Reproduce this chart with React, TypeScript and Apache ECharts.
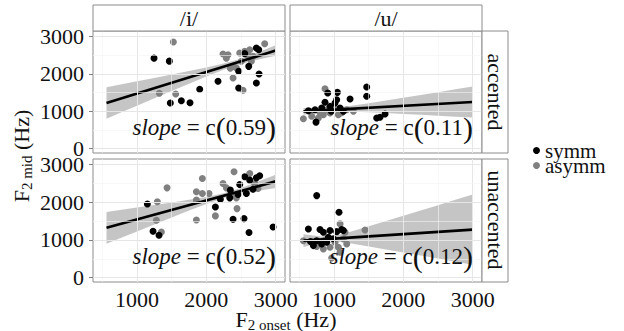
import React, { useEffect, useRef } from 'react';
import * as echarts from 'echarts';

const FONT = 'Liberation Serif';

const colLabels = ['/i/', '/u/'];
const rowLabels = ['accented', 'unaccented'];
const legendNames = ['symm', 'asymm'];
const xTicks = [1000, 2000, 3000];
const yTicks = [0, 1000, 2000, 3000];
const xMinor = [500, 1500, 2500];
const yMinor = [500, 1500, 2500];
const slopes = ['0.59', '0.11', '0.52', '0.12'];

// /i/ accented
const iAccSymm = [[1245, 2420], [1466, 2340], [1480, 1220], [1639, 1280], [1764, 1230], [1904, 1590], [2168, 1800], [2466, 2070], [2466, 1620], [2553, 2540], [2611, 2200], [2721, 2690], [2755, 2645], [2760, 1995], [2721, 1755]];
const iAccAsymm = [[1524, 2850], [1322, 1480], [1558, 1460], [2240, 2530], [2312, 2510], [2288, 2420], [2385, 1890], [2529, 1560], [2385, 2200], [2481, 2555], [2553, 2600], [2625, 2645], [2673, 2470], [2841, 2805], [2433, 2155], [2505, 2335], [2649, 2335], [2345, 2150], [2600, 2500]];
// /u/ accented
const uAccSymm = [[1471, 1650], [1471, 1400], [909, 1490], [1048, 1505], [1231, 1330], [870, 1240], [1014, 1220], [942, 1130], [740, 710], [630, 1015], [726, 1040], [822, 1085], [1087, 1085], [1135, 1000], [1615, 820], [1663, 840], [1736, 925], [1038, 1310], [960, 1000]];
const uAccAsymm = [[870, 1600], [558, 800], [678, 865], [774, 820], [846, 910], [942, 955], [1062, 910], [1183, 1040], [990, 1130], [654, 1000], [894, 1040], [1279, 1000], [800, 950], [1110, 960]];
// /i/ unaccented
const iUnaSymm = [[1149, 1950], [1231, 1230], [1317, 1125], [2130, 1875], [2202, 2080], [2337, 2115], [2385, 1550], [2543, 1565], [2615, 1195], [2962, 1345], [2481, 2470], [2553, 2675], [2625, 2585], [2721, 2645], [2769, 2700], [2577, 2230], [2457, 2205], [2346, 2320], [2673, 2345]];
const iUnaAsymm = [[2399, 2805], [2625, 2760], [1942, 2630], [1433, 2380], [1293, 2010], [1279, 1520], [1351, 1210], [1856, 2275], [1856, 2055], [1942, 2230], [2038, 2230], [1856, 1530], [2130, 1637], [2240, 2495], [2288, 2380], [2442, 1830], [2745, 2365], [2697, 2495], [2361, 2185], [2433, 2115]];
// /u/ unaccented
const uUnaSymm = [[750, 2175], [1072, 1735], [630, 1290], [798, 1275], [846, 1205], [942, 1250], [1038, 1220], [1111, 1275], [1135, 1250], [702, 850], [822, 895], [894, 940], [990, 1030], [750, 980], [918, 1070], [660, 960]];
const uUnaAsymm = [[1087, 1425], [1447, 1265], [1159, 1205], [558, 980], [942, 805], [1062, 805], [966, 520], [1087, 675], [1183, 895], [846, 760], [750, 825], [1014, 940], [1135, 1030], [870, 1000]];

const fitX = [560, 3000];
const iAccFit = [1220, 2622];
const uAccFit = [997, 1246];
const iUnaFit = [1320, 2552];
const uUnaFit = [982, 1273];

const ribbonX = [560, 800, 1000, 1250, 1500, 1750, 2000, 2250, 2500, 2750, 3000];
const iAccLo = [801, 991, 1149, 1345, 1541, 1735, 1927, 2108, 2264, 2382, 2483];
const iAccHi = [1641, 1727, 1799, 1889, 1981, 2073, 2169, 2274, 2406, 2574, 2761];
const uAccLo = [904, 964, 991, 990, 972, 951, 927, 904, 880, 856, 831];
const uAccHi = [1090, 1080, 1093, 1146, 1214, 1287, 1361, 1436, 1510, 1586, 1661];
const iUnaLo = [900, 1078, 1226, 1410, 1595, 1777, 1954, 2112, 2223, 2303, 2374];
const iUnaHi = [1740, 1804, 1858, 1926, 1995, 2065, 2140, 2234, 2377, 2549, 2730];
const uUnaLo = [811, 931, 965, 905, 828, 749, 668, 587, 505, 424, 343];
const uUnaHi = [1153, 1091, 1105, 1223, 1360, 1499, 1640, 1779, 1921, 2062, 2203];

const panels = [
  { symm: iAccSymm, asymm: iAccAsymm, fit: iAccFit, lo: iAccLo, hi: iAccHi },
  { symm: uAccSymm, asymm: uAccAsymm, fit: uAccFit, lo: uAccLo, hi: uAccHi },
  { symm: iUnaSymm, asymm: iUnaAsymm, fit: iUnaFit, lo: iUnaLo, hi: iUnaHi },
  { symm: uUnaSymm, asymm: uUnaAsymm, fit: uUnaFit, lo: uUnaLo, hi: uUnaHi },
];

const grids = [
  { left: 93, top: 31, width: 192, height: 122 },
  { left: 290, top: 31, width: 192, height: 122 },
  { left: 93, top: 159, width: 192, height: 123 },
  { left: 290, top: 159, width: 192, height: 123 },
];

const X_MIN = 365, X_MAX = 3134, Y_MIN = -115, Y_MAX = 3145;
const BORDER = '#8c8c8c';
const TXT = '#111';

export default function App() {
  const ref = useRef<HTMLDivElement>(null);
  useEffect(() => {
    document.body.style.margin = '0';
    const chart = echarts.init(ref.current!, undefined, { renderer: 'svg' });
    const major = { color: '#e6e6e6', width: 1, type: 'solid' };
    const minor = { color: '#f3f3f3', width: 0.6, type: 'solid' };
    const series: any[] = [];
    panels.forEach((p, i) => {
      const gridMarks = [
        ...xTicks.map((v) => ({ xAxis: v, lineStyle: major })),
        ...xMinor.map((v) => ({ xAxis: v, lineStyle: minor })),
        ...yTicks.map((v) => ({ yAxis: v, lineStyle: major })),
        ...yMinor.map((v) => ({ yAxis: v, lineStyle: minor })),
      ];
      series.push({
        type: 'line', xAxisIndex: i, yAxisIndex: i, z: 0,
        data: fitX.map((x, k) => [x, p.fit[k]]),
        symbol: 'none', silent: true, lineStyle: { width: 0, opacity: 0 },
        markLine: { silent: true, symbol: 'none', label: { show: false }, animation: false, data: gridMarks },
      });
      series.push({
        type: 'custom', xAxisIndex: i, yAxisIndex: i, z: 1, silent: true,
        data: [[ribbonX[0], p.lo[0]]],
        renderItem: (_params: any, api: any) => {
          const upper = ribbonX.map((x, k) => api.coord([x, p.hi[k]]));
          const lower = ribbonX.map((x, k) => api.coord([x, p.lo[k]])).reverse();
          return {
            type: 'polygon',
            shape: { points: [...upper, ...lower] },
            style: { fill: 'rgba(140,140,140,0.5)' },
          };
        },
      });
      series.push({
        type: 'scatter', name: 'asymm', xAxisIndex: i, yAxisIndex: i, z: 3,
        data: p.asymm, symbolSize: 7, itemStyle: { color: '#808080', opacity: 1 },
      });
      series.push({
        type: 'scatter', name: 'symm', xAxisIndex: i, yAxisIndex: i, z: 3,
        data: p.symm, symbolSize: 7, itemStyle: { color: '#000000', opacity: 1 },
      });
      series.push({
        type: 'line', xAxisIndex: i, yAxisIndex: i, z: 4,
        data: fitX.map((x, k) => [x, p.fit[k]]),
        symbol: 'none', lineStyle: { color: '#000', width: 2.6 },
      });
    });

    const labelStyle = { fontFamily: FONT, fontSize: 22, color: TXT };
    const slopeRich = {
      it: { fontFamily: FONT, fontSize: 23, fontStyle: 'italic', fill: TXT },
      n: { fontFamily: FONT, fontSize: 23, fill: TXT },
      p: { fontFamily: FONT, fontSize: 30, fill: TXT },
    };
    const slopePos = [[276, 127], [473, 127], [276, 256], [473, 256]];

    const graphic: any[] = [];
    [[93, 189], [290, 386]].forEach(([x0, cx], j) => {
      graphic.push({ type: 'rect', z: 50, shape: { x: x0, y: 5, width: 192, height: 26 }, style: { fill: '#fff', stroke: BORDER, lineWidth: 1 } });
      graphic.push({ type: 'text', z: 51, x: cx, y: 18, style: { text: colLabels[j], fontFamily: FONT, fontSize: 22, fill: TXT, align: 'center', verticalAlign: 'middle' } });
    });
    [[31, 122, 92], [159, 123, 220]].forEach(([y0, h, cy], j) => {
      graphic.push({ type: 'rect', z: 50, shape: { x: 482, y: y0, width: 26, height: h }, style: { fill: '#fff', stroke: BORDER, lineWidth: 1 } });
      graphic.push({ type: 'text', z: 51, x: 495, y: cy, rotation: -Math.PI / 2, style: { text: rowLabels[j], fontFamily: FONT, fontSize: 22, fill: TXT, align: 'center', verticalAlign: 'middle' } });
    });
    slopes.forEach((s, i) => {
      graphic.push({
        type: 'text', z: 60, x: slopePos[i][0], y: slopePos[i][1],
        style: { text: `{it|slope}{n| = c}{p|(}{n|${s}}{p|)}`, rich: slopeRich, fontFamily: FONT, fontSize: 23, align: 'right', verticalAlign: 'middle' },
      });
    });
    const titleRich = {
      F: { fontFamily: FONT, fontSize: 22, fill: TXT, lineHeight: 26, verticalAlign: 'middle' },
      s: { fontFamily: FONT, fontSize: 15, fill: TXT, lineHeight: 15, verticalAlign: 'bottom' },
      n: { fontFamily: FONT, fontSize: 22, fill: TXT, lineHeight: 26, verticalAlign: 'middle' },
    };
    graphic.push({ type: 'text', z: 60, x: 286, y: 319, style: { text: '{F|F}{s|2 onset}{n| (Hz)}', rich: titleRich, fontFamily: FONT, fontSize: 22, align: 'center', verticalAlign: 'middle' } });
    graphic.push({ type: 'text', z: 60, x: 21, y: 156, rotation: Math.PI / 2, style: { text: '{F|F}{s|2 mid}{n| (Hz)}', rich: titleRich, fontFamily: FONT, fontSize: 22, align: 'center', verticalAlign: 'middle' } });

    chart.setOption({
      animation: false,
      grid: grids.map((g) => ({ ...g, show: true, borderColor: BORDER, borderWidth: 1, backgroundColor: '#fff', containLabel: false })),
      xAxis: grids.map((g, i) => {
        const bottom = i >= 2;
        return {
          type: 'value', gridIndex: i, min: X_MIN, max: X_MAX,
          splitLine: { show: false }, axisLine: { show: false },
          axisTick: { show: bottom, customValues: xTicks, length: 4, lineStyle: { color: '#7f7f7f' } },
          axisLabel: { show: bottom, customValues: xTicks, margin: 6, ...labelStyle, formatter: (v: number) => (v % 1000 === 0 ? String(v) : '') },
        };
      }),
      yAxis: grids.map((g, i) => {
        const left = i % 2 === 0;
        return {
          type: 'value', gridIndex: i, min: Y_MIN, max: Y_MAX,
          splitLine: { show: false }, axisLine: { show: false },
          axisTick: { show: left, customValues: yTicks, length: 4, lineStyle: { color: '#7f7f7f' } },
          axisLabel: { show: left, customValues: yTicks, margin: 9, ...labelStyle, formatter: (v: number) => (v % 1000 === 0 ? String(v) : '') },
        };
      }),
      legend: {
        data: legendNames, orient: 'vertical', left: 528, top: 135, itemWidth: 7, itemHeight: 7, itemGap: -6,
        icon: 'circle', selectedMode: false,
        textStyle: { fontFamily: FONT, fontSize: 21, color: TXT },
      },
      graphic,
      series,
    });
    return () => chart.dispose();
  }, []);
  return <div ref={ref} style={{ width: 624, height: 331 }} />;
}
